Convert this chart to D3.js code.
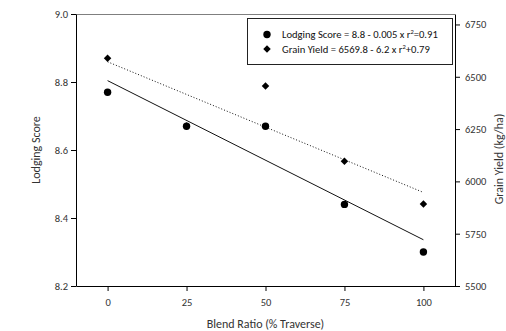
<!DOCTYPE html>
<html>
<head>
<meta charset="utf-8">
<script src="https://cdn.jsdelivr.net/npm/d3@7"></script>
<style>
  body { margin: 0; background: #fff; }
  svg { display: block; font-family: Carlito, Calibri, Lato, sans-serif; }
</style>
</head>
<body>
<svg id="chart"></svg>
<script>
// blend ratio (% traverse)
var blend = [0, 25, 50, 75, 100];
var lodgingScore = [8.77, 8.67, 8.67, 8.44, 8.30];
var grainYield = [6588, 6265, 6456, 6096, 5892];

var xTicks = [0, 25, 50, 75, 100];
var leftTicks = [8.2, 8.4, 8.6, 8.8, 9.0];
var rightTicks = [5500, 5750, 6000, 6250, 6500, 6750];

var legendText = ["Lodging Score = 8.8 - 0.005 x  r", "Grain Yield = 6569.8 - 6.2 x  r"];
var legendTail = ["=0.91", "+0.79"];

var width = 506, height = 331;
var plotL = 76, plotR = 455, plotT = 14, plotB = 286;

var svg = d3.select("#chart").attr("width", width).attr("height", height);

var x = d3.scaleLinear().domain([-10, 110]).range([plotL, plotR]);
var yL = d3.scaleLinear().domain([8.2, 9.0]).range([plotB, plotT]);
var yR = d3.scaleLinear().domain([5500, 6800]).range([plotB, plotT]);

// frame top (gray)
svg.append("line").attr("x1", plotL).attr("x2", plotR).attr("y1", plotT + 0.5).attr("y2", plotT + 0.5)
  .attr("stroke", "#7f7f7f").attr("stroke-width", 1);

function styleAxis(g) {
  g.select(".domain").attr("stroke", "#000");
  g.selectAll(".tick line").attr("stroke", "#000");
  g.selectAll(".tick text").attr("fill", "#333").style("font-size", "10.5px")
    .style("font-family", "Carlito, Calibri, Lato, sans-serif");
}

var xAxis = svg.append("g").attr("transform", "translate(0," + plotB + ")")
  .call(d3.axisBottom(x).tickValues(xTicks).tickSize(5).tickSizeOuter(0).tickPadding(8));
styleAxis(xAxis);

var lAxis = svg.append("g").attr("transform", "translate(" + plotL + ",0)")
  .call(d3.axisLeft(yL).tickValues(leftTicks).tickFormat(d3.format(".1f")).tickSize(5).tickSizeOuter(0).tickPadding(3));
styleAxis(lAxis);

var rAxis = svg.append("g").attr("transform", "translate(" + plotR + ",0)")
  .call(d3.axisRight(yR).tickValues(rightTicks).tickFormat(d3.format("d")).tickSize(5).tickSizeOuter(0).tickPadding(5));
styleAxis(rAxis);

// axis titles
svg.append("text").attr("x", (plotL + plotR) / 2).attr("y", 328)
  .attr("text-anchor", "middle").style("font-size", "12px").attr("fill", "#333")
  .text("Blend Ratio (% Traverse)");
svg.append("text").attr("transform", "translate(40," + ((plotT + plotB) / 2) + ") rotate(-90)")
  .attr("text-anchor", "middle").style("font-size", "12px").attr("fill", "#333")
  .text("Lodging Score");
svg.append("text").attr("transform", "translate(503," + ((plotT + plotB) / 2 + 9) + ") rotate(-90)")
  .attr("text-anchor", "middle").style("font-size", "12px").attr("fill", "#333")
  .text("Grain Yield (kg/ha)");

// least squares fit
function fit(xs, ys) {
  var mx = d3.mean(xs), my = d3.mean(ys);
  var num = d3.sum(xs, function(v, i) { return (v - mx) * (ys[i] - my); });
  var den = d3.sum(xs, function(v) { return (v - mx) * (v - mx); });
  var b = num / den;
  return { a: my - b * mx, b: b };
}
var fL = fit(blend, lodgingScore);
var fY = fit(blend, grainYield);
var x0 = d3.min(blend), x1 = d3.max(blend);

svg.append("line")
  .attr("x1", x(x0)).attr("y1", yL(fL.a + fL.b * x0))
  .attr("x2", x(x1)).attr("y2", yL(fL.a + fL.b * x1))
  .attr("stroke", "#111").attr("stroke-width", 1);

svg.append("line")
  .attr("x1", x(x0)).attr("y1", yR(fY.a + fY.b * x0))
  .attr("x2", x(x1)).attr("y2", yR(fY.a + fY.b * x1))
  .attr("stroke", "#111").attr("stroke-width", 1).attr("stroke-dasharray", "1,2");

var diamond = d3.symbol().type(d3.symbolSquare).size(28);

// grain yield diamonds
svg.selectAll(".gy").data(blend).enter().append("path")
  .attr("class", "gy")
  .attr("d", diamond)
  .attr("transform", function(d, i) { return "translate(" + x(d) + "," + yR(grainYield[i]) + ") rotate(45)"; })
  .attr("fill", "#000");

// lodging score circles
svg.selectAll(".ls").data(blend).enter().append("circle")
  .attr("class", "ls")
  .attr("cx", function(d) { return x(d); })
  .attr("cy", function(d, i) { return yL(lodgingScore[i]); })
  .attr("r", 3.7)
  .attr("fill", "#000");

// legend
var lg = svg.append("g");
lg.append("rect").attr("x", 247.5).attr("y", 18.5).attr("width", 205).attr("height", 46)
  .attr("fill", "#fff").attr("stroke", "#222").attr("stroke-width", 1);
lg.append("circle").attr("cx", 267).attr("cy", 34.5).attr("r", 3.7).attr("fill", "#000");
lg.append("path").attr("d", diamond).attr("transform", "translate(267,49) rotate(45)").attr("fill", "#000");

legendText.forEach(function(t, i) {
  var tx = lg.append("text").attr("x", 282).attr("y", 38 + i * 14.5)
    .style("font-size", "10.6px").attr("fill", "#111");
  tx.append("tspan").text(t);
  tx.append("tspan").attr("dy", -4).style("font-size", "6.5px").text("2");
  tx.append("tspan").attr("dy", 4).text(legendTail[i]);
});
</script>
</body>
</html>
